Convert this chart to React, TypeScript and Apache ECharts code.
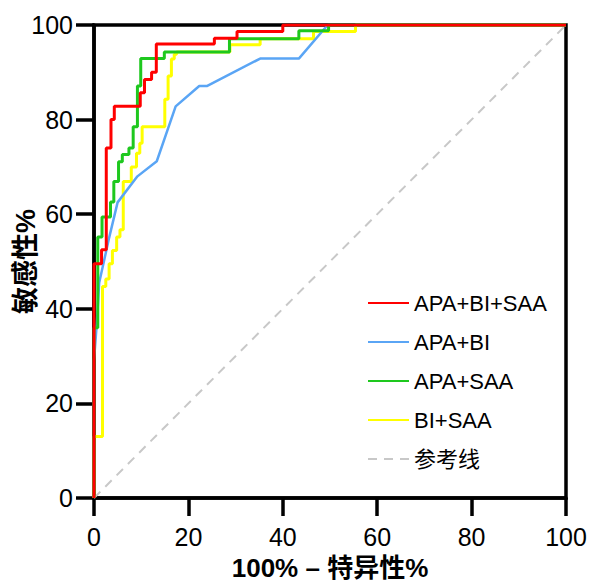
import React, { useEffect, useRef } from "react";
import * as echarts from "echarts";

// ROC curve corner points: [100% - specificity %, sensitivity %]
const apaBiSaa: number[][] = [
  [0, 0], [0, 49.5], [1.6, 49.5], [1.6, 52.5], [2.6, 52.5], [2.6, 74], [3.6, 74], [3.6, 80],
  [4.3, 80], [4.3, 82.8], [9.8, 82.8], [9.8, 85.7], [10.7, 85.7], [10.7, 88.5], [12.2, 88.5],
  [12.2, 90], [13.2, 90], [13.2, 96], [25.5, 96], [25.5, 97.2], [30.3, 97.2], [30.3, 98.6],
  [40, 98.6], [40, 100], [100, 100],
];
const apaBi: number[][] = [
  [0, 0], [0, 29], [0.6, 37], [1.1, 45.5], [3.2, 55], [5, 62.5], [9.2, 68], [13.3, 71.2],
  [17.3, 82.8], [22.3, 87.1], [23.9, 87.1], [35.2, 92.9], [43.4, 92.9], [49.5, 100], [100, 100],
];
const apaSaa: number[][] = [
  [0, 0], [0, 36], [0.8, 36], [0.8, 55.2], [1.7, 55.2], [1.7, 59.4], [3.5, 59.4], [3.5, 62.6],
  [4.2, 62.6], [4.2, 66.9], [5.2, 66.9], [5.2, 71.1], [6, 71.1], [6, 72.6], [7.4, 72.6], [7.4, 74],
  [8.3, 74], [8.3, 78.5], [9.2, 78.5], [9.2, 87.1], [9.9, 87.1], [9.9, 92.9], [14.9, 92.9],
  [14.9, 94.3], [28.7, 94.3], [28.7, 97.1], [43.4, 97.1], [43.4, 98.8], [49.7, 98.8], [49.7, 100],
  [100, 100],
];
const biSaa: number[][] = [
  [0, 0], [0, 13], [1.8, 13], [1.8, 44.7], [2.5, 44.7], [2.5, 46.3], [3.2, 46.3], [3.2, 49.5],
  [3.9, 49.5], [3.9, 52.3], [4.8, 52.3], [4.8, 55.2], [5.5, 55.2], [5.5, 56.7], [6.2, 56.7],
  [6.2, 66.9], [7.9, 66.9], [7.9, 70], [9, 70], [9, 72.9], [9.7, 72.9], [9.7, 75], [10.2, 75],
  [10.2, 78.5], [15, 78.5], [15, 84.3], [15.7, 84.3], [15.7, 89.2], [16.4, 89.2], [16.4, 92.8],
  [17, 92.8], [17, 93.8], [17.5, 93.8], [17.5, 94.3], [28.8, 94.3], [28.8, 95.8], [35.2, 95.8],
  [35.2, 97.1], [46.5, 97.1], [46.5, 98.6], [55.4, 98.6], [55.4, 100], [100, 100],
];
const referenceLine: number[][] = [[0, 0], [100, 100]];

const seriesNames = ["APA+BI+SAA", "APA+BI", "APA+SAA", "BI+SAA", "参考线"];
const xTitle = "100% – 特异性%";
const yTitle = "敏感性%";

const FONT = "'Liberation Sans', Arial, 'Noto Sans CJK SC', sans-serif";

export default function App() {
  const ref = useRef<HTMLDivElement>(null);
  useEffect(() => {
    if (!ref.current) return;
    const chart = echarts.init(ref.current, undefined, { renderer: "svg" });
    const axisCommon = {
      type: "value" as const,
      min: 0,
      max: 100,
      interval: 20,
      splitLine: { show: false },
      axisLine: { show: true, onZero: false, lineStyle: { color: "#000", width: 3.5 } },
      axisTick: { show: true, length: 18, lineStyle: { color: "#000", width: 3.5 } },
    };
    chart.setOption({
      animation: false,
      backgroundColor: "#fff",
      grid: {
        left: 94, right: 31, top: 25, bottom: 85,
        containLabel: false,
        outerBoundsMode: "none",
        show: true, borderColor: "#000", borderWidth: 3.5,
      },
      xAxis: {
        ...axisCommon,
        name: xTitle,
        nameLocation: "middle",
        nameGap: 57,
        nameTextStyle: { color: "#000", fontSize: 26, fontFamily: FONT, fontWeight: "bold" },
        axisLabel: { color: "#000", fontSize: 25, fontFamily: FONT, margin: 26 },
      },
      yAxis: {
        ...axisCommon,
        name: yTitle,
        nameLocation: "middle",
        nameRotate: 90,
        nameGap: 55,
        nameMoveOverlap: false,
        nameTextStyle: { color: "#000", fontSize: 27, fontFamily: FONT, fontWeight: "bold" },
        axisLabel: { color: "#000", fontSize: 25, fontFamily: FONT, margin: 21 },
      },
      legend: {
        orient: "vertical",
        left: 362,
        top: 287,
        itemWidth: 41,
        itemHeight: 14,
        itemGap: 17,
        data: seriesNames,
        itemStyle: { opacity: 0 },
        textStyle: { color: "#000", fontSize: 22, fontFamily: FONT },
      },
      series: [
        {
          name: seriesNames[4], type: "line", data: referenceLine, symbol: "none",
          lineStyle: { color: "#c8c8c8", width: 2, type: [9, 7] }, itemStyle: { color: "#c8c8c8" },
        },
        {
          name: seriesNames[3], type: "line", data: biSaa, symbol: "none",
          lineStyle: { color: "#ffff00", width: 3 }, itemStyle: { color: "#ffff00" },
        },
        {
          name: seriesNames[1], type: "line", data: apaBi, symbol: "none",
          lineStyle: { color: "#5aa5f5", width: 2.5 }, itemStyle: { color: "#5aa5f5" },
        },
        {
          name: seriesNames[2], type: "line", data: apaSaa, symbol: "none",
          lineStyle: { color: "#1ec81e", width: 3 }, itemStyle: { color: "#1ec81e" },
        },
        {
          name: seriesNames[0], type: "line", data: apaBiSaa, symbol: "none",
          lineStyle: { color: "#ff0000", width: 3 }, itemStyle: { color: "#ff0000" },
        },
      ],
    });
    return () => chart.dispose();
  }, []);
  return <div ref={ref} style={{ width: 597, height: 583, position: "absolute", left: 0, top: 0 }} />;
}
